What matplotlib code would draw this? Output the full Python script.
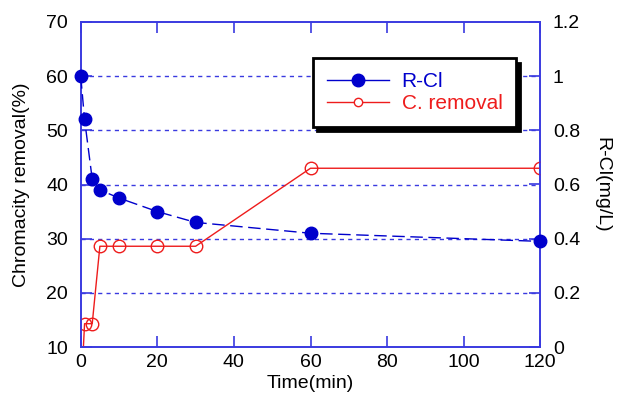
import matplotlib
matplotlib.use('Agg')
import matplotlib.pyplot as plt
from matplotlib.lines import Line2D

# data
time_rcl = [0, 1, 3, 5, 10, 20, 30, 60, 120]
rcl = [1.0, 0.84, 0.62, 0.58, 0.55, 0.50, 0.46, 0.42, 0.39]  # mg/L

time_rem = [0, 1, 3, 5, 10, 20, 30, 60, 120]
removal = [0, 14.3, 14.3, 28.6, 28.6, 28.6, 28.6, 43.0, 43.0]  # %

left_ticks = [10, 20, 30, 40, 50, 60, 70]
right_ticks = [0, 0.2, 0.4, 0.6, 0.8, 1.0, 1.2]
right_labels = ['0', '0.2', '0.4', '0.6', '0.8', '1', '1.2']
x_ticks = [0, 20, 40, 60, 80, 100, 120]

plt.rcParams['font.family'] = ['Liberation Sans', 'DejaVu Sans']
spine_col = '#3a3ae0'
blue = '#0000cc'
red = '#ee1c1c'

fig = plt.figure(figsize=(6.21, 4.0), dpi=100)
ax = fig.add_axes([0.130, 0.1325, 0.740, 0.8125])
ax2 = ax.twinx()

# red: chromacity removal on the left axis
ax.plot(time_rem, removal, color=red, lw=1.0, marker='o', ms=9,
        mfc='none', mec=red, mew=1.0, clip_on=True, zorder=3)
# blue: R-Cl on the right axis
ax2.plot(time_rcl, rcl, color=blue, lw=1.0, dashes=(9, 4), marker='o',
         ms=9, mfc=blue, mec=blue, clip_on=False, zorder=4)

ax.set_xlim(0, 120)
ax.set_ylim(10, 70)
ax2.set_ylim(0, 1.2)
ax.set_xticks(x_ticks)
ax.set_yticks(left_ticks)
ax2.set_yticks(right_ticks)
ax2.set_yticklabels(right_labels)

# dashed grid on the inner ticks
for y in left_ticks[1:-1]:
    ax.axhline(y, color=spine_col, lw=1.0, dashes=(3, 3), zorder=1)

for a in (ax, ax2):
    for s in a.spines.values():
        s.set_color(spine_col)
        s.set_linewidth(1.2)
ax.tick_params(axis='both', direction='in', length=8, width=1.2,
               color=spine_col, labelsize=14, top=True)
ax.tick_params(axis='y', pad=9)
ax.tick_params(axis='x', pad=5)
ax2.tick_params(axis='y', direction='in', length=8, width=1.2,
                color=spine_col, labelsize=14, pad=9)

ax.set_xlabel('Time(min)', fontsize=14, labelpad=3)
ax.set_ylabel('Chromacity removal(%)', fontsize=14, labelpad=12)
ax2.set_ylabel('R-Cl(mg/L)', fontsize=14, rotation=270, labelpad=22)

handles = [
    Line2D([], [], color=blue, lw=1.0, marker='o', ms=9, mfc=blue, mec=blue),
    Line2D([], [], color=red, lw=1.0, marker='o', ms=6, mfc='white', mec=red),
]
leg = ax2.legend(handles, ['R-Cl', 'C. removal'], loc='upper left',
                 bbox_to_anchor=(0.483, 0.92), fontsize=15, frameon=True,
                 fancybox=False, handlelength=3.0, borderpad=0.65,
                 labelspacing=0.15, handletextpad=0.6,
                 shadow={'color': 'black', 'ox': 3, 'oy': -3, 'alpha': 1})
leg.get_frame().set_edgecolor('black')
leg.get_frame().set_linewidth(2.0)
leg.get_texts()[0].set_color(blue)
leg.get_texts()[1].set_color(red)

fig.savefig('out.png', dpi=100)
